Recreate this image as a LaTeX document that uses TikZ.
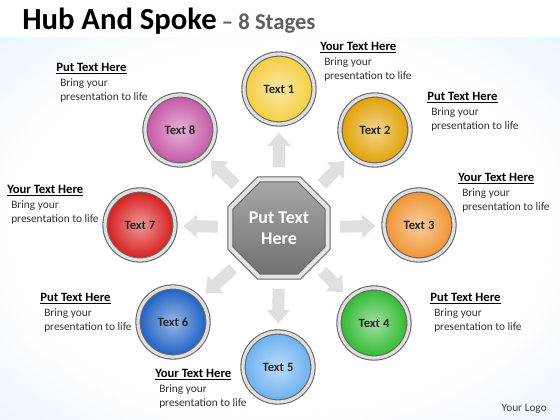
\documentclass[tikz,border=0pt]{standalone}
\usepackage{fontspec}
\setmainfont{Carlito}
\usetikzlibrary{shapes.geometric,arrows.meta,positioning}
\definecolor{bgblue}{RGB}{210,235,250}
\definecolor{titlegray}{RGB}{95,95,95}
\definecolor{sone}{RGB}{245,205,60}
\definecolor{stwo}{RGB}{225,160,0}
\definecolor{sthree}{RGB}{240,145,45}
\definecolor{sfour}{RGB}{45,185,45}
\definecolor{sfive}{RGB}{105,175,240}
\definecolor{ssix}{RGB}{25,95,195}
\definecolor{sseven}{RGB}{215,25,25}
\definecolor{seight}{RGB}{195,85,165}
\pgfdeclareradialshading{backdrop}{\pgfpoint{0bp}{0bp}}{color(0bp)=(white); color(24bp)=(white); color(50bp)=(bgblue)}
\tikzset{
    stage/.style={circle, minimum size=52.5pt, inner sep=0pt, draw=black!60, double=black!12,
      double distance=2.4pt, line width=0.8pt, inner color=#1!45!white, outer color=#1,
      font=\bfseries\fontsize{9.5}{11}\selectfont, text=black!85},
    hub/.style={regular polygon, regular polygon sides=8, minimum size=79pt, inner sep=0pt,
      draw=black!60, double=black!10, double distance=3pt, line width=0.8pt,
      top color=black!34, bottom color=black!56, text=white, align=center,
      font=\bfseries\fontsize{13.5}{15.5}\selectfont},
    spoke/.style={draw=black!12, line width=9pt, -{Triangle[width=17pt,length=10pt]},
      shorten <=9pt, shorten >=6pt},
    head/.style={anchor=north west, inner sep=0pt, font=\bfseries\fontsize{9.5}{11}\selectfont},
    body/.style={align=left, inner sep=0pt, font=\fontsize{8.5}{10.5}\selectfont, text=black!80},
  }
\begin{document}
\begin{tikzpicture}[x=0.75pt,y=0.75pt]
  % frame 560 x 420 px, y upwards
  \useasboundingbox (0,0) rectangle (560,420);
  \fill[white] (0,0) rectangle (560,420);
  \shade[shading=backdrop] (0,0) rectangle (560,382);

  % title
  \node[anchor=base west, inner sep=0pt] (title) at (22,390)
    {{\fontsize{23}{26}\selectfont\bfseries Hub And Spoke}\hspace{4pt}{\color{titlegray}\fontsize{17}{20}\selectfont\bfseries -- 8 Stages}};

  % hub and stages
  \node[hub] (hub) at (279,192) {Put Text\\Here};
  \node[stage=sone]   (c1) at (279,331) {Text 1};
  \node[stage=stwo]   (c2) at (375,290) {Text 2};
  \node[stage=sthree] (c3) at (419,195) {Text 3};
  \node[stage=sfour]  (c4) at (374,97)  {Text 4};
  \node[stage=sfive]  (c5) at (278,53)  {Text 5};
  \node[stage=ssix]   (c6) at (173,98)  {Text 6};
  \node[stage=sseven] (c7) at (140,195) {Text 7};
  \node[stage=seight] (c8) at (180,290) {Text 8};

  % spokes
  \draw[spoke] (hub) -- (c1);
  \draw[spoke] (hub) -- (c2);
  \draw[spoke] (hub) -- (c3);
  \draw[spoke] (hub) -- (c4);
  \draw[spoke] (hub) -- (c5);
  \draw[spoke] (hub) -- (c6);
  \draw[spoke] (hub) -- (c7);
  \draw[spoke] (hub) -- (c8);

  % notes
  \node[head] (h1) at (320,378) {\underline{Your Text Here}};
  \node[body, below right=3pt and 3pt of h1.south west] (b1) {Bring your\\presentation to life};
  \node[head] (h2) at (427,328) {\underline{Put Text Here}};
  \node[body, below right=3pt and 3pt of h2.south west] (b2) {Bring your\\presentation to life};
  \node[head] (h3) at (458,247) {\underline{Your Text Here}};
  \node[body, below right=3pt and 3pt of h3.south west] (b3) {Bring your\\presentation to life};
  \node[head] (h4) at (430,127) {\underline{Put Text Here}};
  \node[body, below right=3pt and 3pt of h4.south west] (b4) {Bring your\\presentation to life};
  \node[head] (h5) at (155,51) {\underline{Your Text Here}};
  \node[body, below right=3pt and 3pt of h5.south west] (b5) {Bring your\\presentation to life};
  \node[head] (h6) at (40,127) {\underline{Put Text Here}};
  \node[body, below right=3pt and 3pt of h6.south west] (b6) {Bring your\\presentation to life};
  \node[head] (h7) at (7,235) {\underline{Your Text Here}};
  \node[body, below right=3pt and 3pt of h7.south west] (b7) {Bring your\\presentation to life};
  \node[head] (h8) at (56,357) {\underline{Put Text Here}};
  \node[body, below right=3pt and 3pt of h8.south west] (b8) {Bring your\\presentation to life};

  \node[anchor=base east, inner sep=0pt, font=\fontsize{8.5}{10}\selectfont, text=black!75] (logo) at (547,8) {Your Logo};
\end{tikzpicture}
\end{document}
